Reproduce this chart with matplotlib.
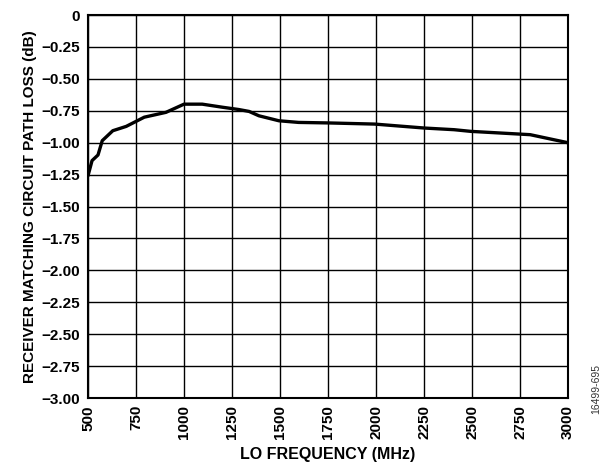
import matplotlib
matplotlib.use('Agg')
import matplotlib.pyplot as plt

# LO frequency (MHz) and path loss (dB)
freq_mhz = [500, 521, 552, 574, 629, 699, 793, 906, 1000, 1095, 1200, 1285,
            1339, 1390, 1494, 1597, 1752, 1993, 2252, 2407, 2493, 2803, 3000]
loss_db = [-1.258, -1.14, -1.096, -0.984, -0.906, -0.872, -0.80, -0.762, -0.698,
           -0.698, -0.722, -0.74, -0.755, -0.789, -0.828, -0.841, -0.845, -0.854,
           -0.885, -0.898, -0.911, -0.937, -1.00]

x_ticks = list(range(500, 3001, 250))
y_ticks = [0, -0.25, -0.5, -0.75, -1.0, -1.25, -1.5, -1.75, -2.0, -2.25, -2.5, -2.75, -3.0]

plt.rcParams['font.family'] = ['Liberation Sans', 'DejaVu Sans']
plt.rcParams['font.weight'] = 'bold'

fig = plt.figure(figsize=(6.13, 4.70), dpi=100)
ax = fig.add_axes([0.1436, 0.153, 0.7830, 0.815])

ax.plot(freq_mhz, loss_db, color='black', linewidth=2.4, solid_capstyle='round')

ax.set_xlim(500, 3000)
ax.set_ylim(-3.0, 0)
ax.set_xticks(x_ticks)
ax.set_yticks(y_ticks)
ax.set_xticklabels([str(t) for t in x_ticks], rotation=90, fontsize=11, fontweight='bold')
ax.set_yticklabels(['0' if t == 0 else f'\u2212{abs(t):.2f}' for t in y_ticks],
                   fontsize=11, fontweight='bold')
ax.tick_params(axis='y', length=0, pad=6)
ax.tick_params(axis='x', length=0, pad=5)
ax.grid(True, color='black', linewidth=1.0)
for s in ax.spines.values():
    s.set_linewidth(1.5)

ax.set_xlabel('LO FREQUENCY (MHz)', fontsize=11.5, fontweight='bold')
ax.xaxis.set_label_coords(0.5, -0.127)
ax.set_ylabel('RECEIVER MATCHING CIRCUIT PATH LOSS (dB)', fontsize=11, fontweight='bold', labelpad=3)

fig.text(0.972, 0.12, '16499-695', rotation=90, fontsize=7.5, fontweight='normal',
         color='#333333', ha='center', va='bottom')

fig.savefig('out.png', dpi=100)
